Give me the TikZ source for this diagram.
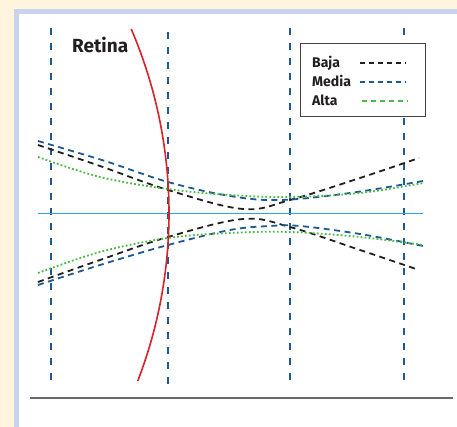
\documentclass[tikz,border=0pt]{standalone}
\usepackage{fontspec}
\setmainfont{Fira Sans}
\definecolor{crema}{HTML}{FFF4DE}
\definecolor{lavanda}{HTML}{C9D3EC}
\definecolor{azulosc}{HTML}{1D5A94}
\definecolor{verde}{HTML}{4DB848}
\definecolor{negro}{HTML}{231F20}
\definecolor{rojo}{HTML}{D5232C}
\definecolor{celeste}{HTML}{2AA7DF}
\definecolor{gris}{HTML}{6E6768}

\begin{document}
\begin{tikzpicture}[x=1pt,y=-1pt,
    guia/.style={draw=azulosc,line width=2pt,dash pattern=on 7pt off 8pt},
    baja/.style={draw=negro,line width=1.8pt,dash pattern=on 6pt off 4.5pt},
    media/.style={draw=azulosc,line width=1.8pt,dash pattern=on 6pt off 4.5pt},
    alta/.style={draw=verde,line width=1.8pt,dash pattern=on 1.8pt off 2.2pt},
    clave/.style={line width=1.4pt,dash pattern=on 5pt off 4pt},
    etiq/.style={anchor=base west,inner sep=0pt,font=\bfseries\fontsize{14}{16}\selectfont,text=negro}]
  \useasboundingbox (0,0) rectangle (457,427);
  \fill[crema] (0,0) rectangle (457,427);
  \fill[lavanda] (14,9) rectangle (457,427);
  \fill[white] (19,14) rectangle (457,427);

  \draw[guia] (50.7,28) -- (50.7,381);
  \draw[guia] (168.3,32) -- (168.3,384);
  \draw[guia] (290.3,28) -- (290.3,381);
  \draw[guia] (404,28) -- (404,381);

  \draw[celeste,line width=1pt] (38,213.3) -- (423,213.3);
  \draw[gris,line width=2pt] (30,398) -- (453,398);

  \draw[baja] plot[smooth,tension=0.6] coordinates
    {(38,145) (100,166) (168,190) (243,209) (290,200) (360,178) (419,158)};
  \draw[media] plot[smooth,tension=0.6] coordinates
    {(38,141) (105,161) (168,182) (230,196) (280,200) (350,193) (423,181)};
  \draw[alta] plot[smooth,tension=0.6] coordinates
    {(38,157) (100,177) (168,189) (230,195) (290,197) (360,193) (423,183)};
  \draw[baja] plot[smooth,tension=0.6] coordinates
    {(38,282) (100,260) (168,237) (243,219) (290,227) (360,250) (419,270)};
  \draw[media] plot[smooth,tension=0.6] coordinates
    {(38,285) (100,265) (168,245) (230,230) (270,226) (300,226) (360,234) (423,246)};
  \draw[alta] plot[smooth,tension=0.6] coordinates
    {(38,273) (100,252) (168,238) (230,233) (290,232) (360,237) (423,245)};

  \draw[rojo,line width=1.6pt] plot[domain=29:381,samples=60,variable=\t]
    ({-298+467*sqrt(1-((\t-213)/467)^2)},\t);

  \node (retina) [anchor=base west,inner sep=0pt,font=\bfseries\fontsize{19}{22}\selectfont,text=negro] at (72,52.3) {Retina};

  \node (leyenda) [draw=negro!85,line width=1pt,fill=white,minimum width=125pt,minimum height=73pt,inner sep=0pt] at (362.5,80.5) {};
  \node (b) [etiq] at (312,68) {Baja};
  \node (m) [etiq] at (312,87) {Media};
  \node (a) [etiq] at (312,106) {Alta};
  \draw[clave,negro] (360,63) -- (406,63);
  \draw[clave,azulosc] (360,82) -- (406,82);
  \draw[clave,verde] (362,101) -- (408,101);
\end{tikzpicture}
\end{document}
